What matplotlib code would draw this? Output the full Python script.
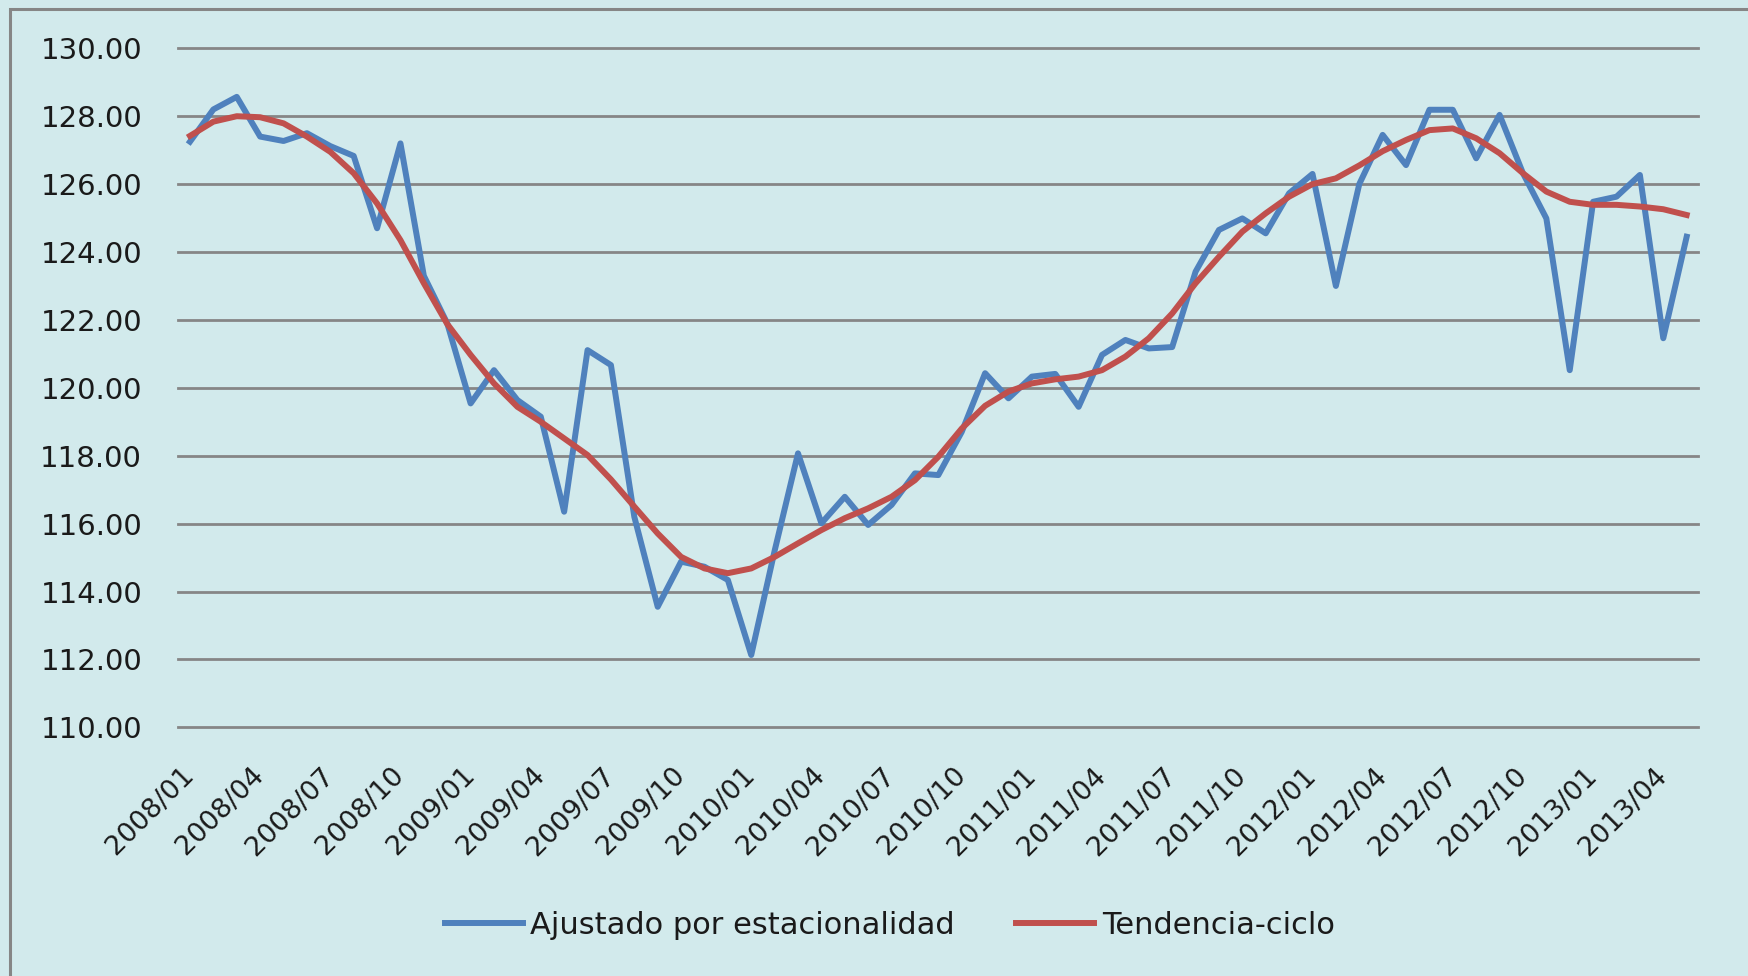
import numpy as np
import matplotlib
matplotlib.use("Agg")
import matplotlib.pyplot as plt
from matplotlib.patches import Rectangle

# monthly series 2008/01 .. 2013/05
ajustado = [127.25, 128.20, 128.57, 127.40, 127.27, 127.50, 127.12, 126.83, 124.70, 127.20,
            123.30, 121.90, 119.54, 120.52, 119.64, 119.15, 116.35, 121.11, 120.67, 116.20,
            113.55, 114.88, 114.73, 114.34, 112.13, 115.20, 118.07, 116.01, 116.79, 115.96,
            116.55, 117.48, 117.43, 118.70, 120.43, 119.69, 120.33, 120.41, 119.44, 120.97,
            121.41, 121.16, 121.20, 123.42, 124.65, 124.99, 124.55, 125.73, 126.30, 123.00,
            126.00, 127.45, 126.56, 128.19, 128.19, 126.76, 128.04, 126.32, 124.99, 120.52,
            125.48, 125.63, 126.27, 121.46, 124.45]
tendencia = [127.42, 127.84, 128.00, 127.97, 127.79, 127.40, 126.95, 126.32, 125.43, 124.35,
             123.08, 121.88, 120.97, 120.13, 119.44, 119.00, 118.51, 118.02, 117.30, 116.50,
             115.71, 115.02, 114.68, 114.54, 114.68, 115.02, 115.42, 115.81, 116.16, 116.45,
             116.79, 117.28, 117.97, 118.80, 119.47, 119.89, 120.13, 120.25, 120.33, 120.52,
             120.92, 121.46, 122.19, 123.08, 123.86, 124.60, 125.14, 125.63, 126.00, 126.17,
             126.55, 126.97, 127.30, 127.59, 127.64, 127.35, 126.91, 126.32, 125.78, 125.48,
             125.39, 125.39, 125.34, 125.26, 125.09]
tick_labels = ["2008/01", "2008/04", "2008/07", "2008/10", "2009/01", "2009/04", "2009/07",
               "2009/10", "2010/01", "2010/04", "2010/07", "2010/10", "2011/01", "2011/04",
               "2011/07", "2011/10", "2012/01", "2012/04", "2012/07", "2012/10", "2013/01",
               "2013/04"]
y_ticks = [110, 112, 114, 116, 118, 120, 122, 124, 126, 128, 130]

bg = "#D2EAEC"
grid_col = "#868686"

fig = plt.figure(figsize=(17.48, 9.76), dpi=100, facecolor=bg)
ax = fig.add_axes([0.102, 0.2548, 0.8696, 0.6957])
ax.set_facecolor(bg)

x = np.arange(len(ajustado))
ax.plot(x, ajustado, color="#4F81BD", lw=4.3, solid_joinstyle="round",
        label="Ajustado por estacionalidad", zorder=3)
ax.plot(x, tendencia, color="#C0504D", lw=4.3, solid_joinstyle="round",
        label="Tendencia-ciclo", zorder=4)

ax.set_xlim(-0.5, len(ajustado) - 0.5)
ax.set_ylim(110, 130)
ax.set_yticks(y_ticks)
ax.set_yticklabels(["%.2f" % v for v in y_ticks])
ax.set_xticks(x[::3])
ax.set_xticklabels(tick_labels, rotation=45, ha="right", va="center",
                   rotation_mode="anchor")

for s in ax.spines.values():
    s.set_visible(False)
ax.tick_params(axis="y", length=0, pad=26, labelsize=21, labelcolor="#1a1a1a")
ax.tick_params(axis="x", length=0, pad=32, labelsize=19.5, labelcolor="#1a1a1a")

ax.yaxis.grid(True, color=grid_col, lw=2.0)
for gl in ax.get_ygridlines():
    gl.set_clip_on(False)
ax.xaxis.grid(False)
ax.set_axisbelow(True)

leg = fig.legend(loc="center", bbox_to_anchor=(0.509, 0.052), ncol=2, frameon=False,
                 fontsize=22, handlelength=2.55, handletextpad=0.25, columnspacing=2.0)
for t in leg.get_texts():
    t.set_color("#1a1a1a")

fig.patches.append(Rectangle((9.5 / 1748, -0.1), 1.2, 1.1 - 9.5 / 976,
                             transform=fig.transFigure, fill=False,
                             edgecolor=grid_col, lw=2.2))

fig.savefig("out.png", dpi=100, facecolor=bg)
